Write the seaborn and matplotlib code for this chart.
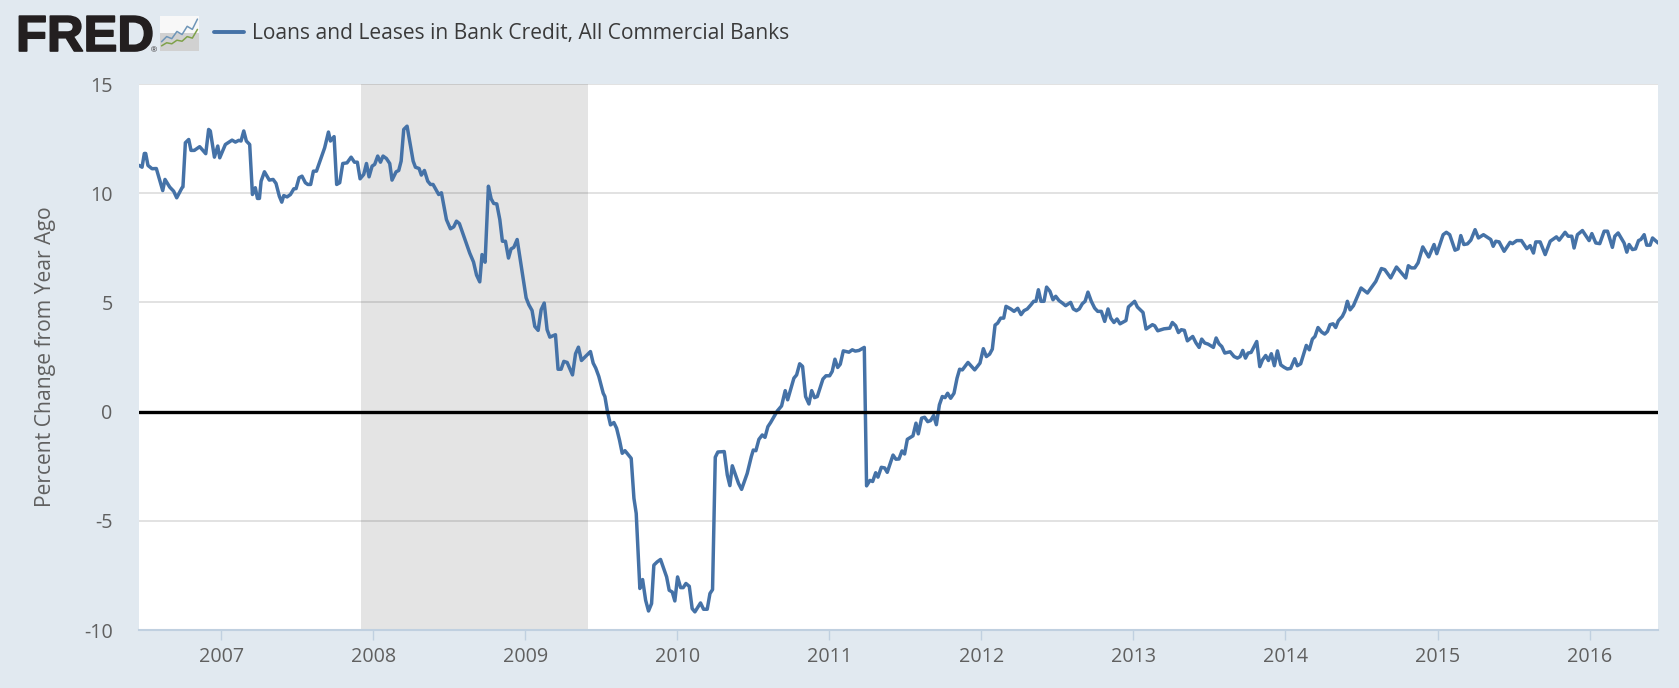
import matplotlib.patheffects as pe
import matplotlib.pyplot as plt
import numpy as np
import seaborn as sns
from matplotlib.lines import Line2D

# decimal year / percent change
years_2006 = [.462, .480, .495, .504, .519, .546, .574, .616, .631, .662, .688, .708, .743, .749, .765, .787, .802, .824, .859, .899, .918, .929, .956, .978, .991]
pct_2006 = [11.27, 11.19, 11.82, 11.82, 11.27, 11.12, 11.13, 10.12, 10.63, 10.28, 10.09, 9.79, 10.25, 10.29, 12.31, 12.46, 11.96, 11.96, 12.13, 11.81, 12.92, 12.85, 11.65, 12.16, 11.62]
years_2007 = [.028, .052, .072, .094, .116, .131, .149, .166, .188, .206, .225, .239, .252, .263, .285, .317, .342, .361, .383, .399, .412, .434, .456, .478, .493, .513, .532, .554, .570, .589, .607, .627, .681, .706, .719, .743, .760, .780, .800, .828, .855, .877, .896, .914, .938, .956, .973, .993]
pct_2007 = [12.23, 12.34, 12.43, 12.34, 12.42, 12.39, 12.85, 12.39, 12.23, 9.94, 10.25, 9.76, 9.76, 10.55, 10.98, 10.60, 10.63, 10.45, 9.86, 9.59, 9.89, 9.83, 9.94, 10.20, 10.21, 10.71, 10.78, 10.48, 10.40, 10.40, 11.01, 11.01, 12.08, 12.80, 12.39, 12.59, 10.40, 10.48, 11.36, 11.39, 11.65, 11.42, 11.42, 10.66, 10.86, 11.36, 10.75, 11.24]
years_2008 = [.010, .030, .048, .065, .087, .109, .124, .151, .168, .184, .201, .223, .263, .278, .302, .317, .337, .359, .377, .394, .431, .449, .482, .508, .530, .548, .567, .635, .660, .680, .701, .716, .736, .758, .776, .793, .813, .833, .850, .870, .890, .907, .925, .947]
pct_2008 = [11.32, 11.70, 11.42, 11.70, 11.59, 11.36, 10.60, 10.98, 11.04, 11.47, 12.92, 13.07, 11.47, 11.19, 11.13, 10.83, 11.04, 10.55, 10.40, 10.40, 9.94, 10.02, 8.79, 8.37, 8.46, 8.72, 8.61, 7.26, 6.85, 6.25, 5.94, 7.19, 6.84, 10.32, 9.74, 9.53, 9.51, 8.79, 7.80, 7.80, 7.03, 7.45, 7.52, 7.88]
years_2009 = [.006, .024, .045, .063, .085, .105, .125, .144, .162, .199, .216, .236, .254, .276, .311, .331, .350, .370, .429, .447, .464, .484, .513, .524, .541, .561, .583, .601, .620, .638, .656, .697, .715, .730, .754, .772, .792, .811, .831, .846, .868, .890, .930, .947, .967, .984]
pct_2009 = [5.21, 4.89, 4.63, 3.90, 3.72, 4.67, 4.97, 3.75, 3.41, 3.52, 1.94, 1.94, 2.30, 2.25, 1.68, 2.65, 2.95, 2.34, 2.75, 2.22, 1.99, 1.61, 0.84, 0.69, 0.00, -0.61, -0.50, -0.76, -1.30, -1.91, -1.79, -2.14, -3.97, -4.66, -8.10, -7.69, -8.64, -9.13, -8.79, -7.03, -6.88, -6.77, -7.57, -8.18, -8.26, -8.67]
years_2010 = [.002, .022, .039, .057, .079, .098, .116, .153, .173, .197, .215, .232, .250, .267, .309, .329, .346, .362, .403, .423, .460, .487, .500, .517, .537, .559, .577, .596, .614, .658, .686, .710, .726, .767, .785, .805, .824, .844, .866, .884, .903, .921, .958, .978]
pct_2010 = [-7.57, -8.06, -8.06, -7.87, -8.00, -9.02, -9.17, -8.76, -9.05, -9.05, -8.33, -8.15, -2.09, -1.85, -1.83, -2.90, -3.39, -2.48, -3.29, -3.56, -2.83, -2.06, -1.76, -1.79, -1.27, -1.07, -1.18, -0.69, -0.50, 0.03, 0.26, 0.96, 0.54, 1.53, 1.68, 2.19, 2.07, 0.69, 0.35, 0.96, 0.64, 0.69, 1.49, 1.64]
years_2011 = [.002, .019, .037, .055, .072, .092, .129, .151, .171, .195, .230, .245, .267, .285, .305, .320, .342, .364, .381, .419, .438, .458, .478, .495, .513, .550, .570, .585, .607, .627, .647, .666, .686, .704, .724, .743, .761, .778, .798, .820, .840, .857, .875, .912, .956, .991]
pct_2011 = [1.64, 1.84, 2.40, 2.02, 2.17, 2.78, 2.72, 2.83, 2.77, 2.80, 2.94, -3.40, -3.15, -3.20, -2.80, -3.00, -2.55, -2.58, -2.78, -1.99, -2.18, -2.17, -1.80, -1.94, -1.27, -1.11, -0.53, -1.02, -0.30, -0.26, -0.46, -0.41, -0.18, -0.60, 0.31, 0.69, 0.64, 0.84, 0.61, 0.84, 1.53, 1.94, 1.91, 2.25, 1.91, 2.22]
years_2012 = [.013, .033, .054, .072, .090, .107, .127, .147, .162, .193, .215, .239, .261, .280, .302, .326, .344, .359, .375, .392, .412, .429, .451, .471, .489, .511, .533, .554, .587, .605, .625, .644, .664, .682, .701, .723, .745, .765, .789, .811, .833, .851, .872, .892, .912, .951, .967]
pct_2012 = [2.88, 2.52, 2.63, 2.86, 3.96, 4.05, 4.28, 4.28, 4.82, 4.70, 4.59, 4.73, 4.44, 4.62, 4.70, 4.89, 5.05, 5.05, 5.58, 5.05, 5.05, 5.70, 5.51, 5.12, 5.28, 5.08, 4.97, 4.85, 5.00, 4.70, 4.62, 4.70, 4.94, 5.05, 5.47, 5.05, 4.74, 4.59, 4.59, 4.13, 4.70, 4.28, 4.08, 4.24, 4.02, 4.17, 4.79]
years_2013 = [.008, .026, .063, .083, .125, .140, .160, .201, .239, .256, .278, .296, .315, .335, .355, .390, .412, .432, .449, .469, .491, .526, .544, .563, .581, .601, .636, .662, .684, .702, .719, .737, .754, .774, .811, .831, .849, .870, .888, .907, .927, .947, .969, .991]
pct_2013 = [5.05, 4.79, 4.54, 3.78, 3.98, 3.93, 3.70, 3.79, 3.82, 4.08, 3.93, 3.62, 3.75, 3.72, 3.24, 3.44, 3.14, 2.94, 3.32, 3.14, 3.09, 2.94, 3.37, 3.10, 2.98, 2.68, 2.74, 2.52, 2.45, 2.52, 2.80, 2.45, 2.68, 2.71, 3.21, 2.06, 2.37, 2.57, 2.34, 2.65, 2.10, 2.78, 2.14, 2.03]
years_2014 = [.012, .034, .061, .078, .100, .137, .157, .177, .194, .214, .238, .258, .276, .293, .313, .330, .348, .374, .390, .407, .425, .447, .497, .539, .594, .631, .653, .692, .730, .791, .808, .828, .850, .872, .903, .942, .977, .995]
pct_2014 = [1.95, 1.98, 2.42, 2.10, 2.19, 3.03, 2.83, 3.32, 3.44, 3.85, 3.64, 3.55, 3.67, 3.98, 4.02, 3.85, 4.16, 4.36, 4.59, 5.05, 4.66, 4.85, 5.66, 5.43, 5.96, 6.55, 6.50, 6.12, 6.62, 6.12, 6.68, 6.58, 6.58, 6.81, 7.54, 7.08, 7.65, 7.23]
years_2015 = [.037, .058, .080, .115, .135, .153, .173, .197, .219, .247, .269, .302, .350, .366, .383, .405, .438, .477, .493, .521, .552, .587, .609, .631, .646, .675, .708, .741, .782, .800, .839, .859, .883, .898, .920, .953, .997]
pct_2015 = [8.10, 8.21, 8.10, 7.39, 7.45, 8.06, 7.65, 7.68, 7.85, 8.33, 7.95, 8.10, 7.88, 7.57, 7.80, 7.77, 7.34, 7.75, 7.69, 7.83, 7.83, 7.46, 7.60, 7.26, 7.77, 7.77, 7.19, 7.80, 8.00, 7.85, 8.21, 8.03, 8.03, 7.49, 8.10, 8.29, 7.83]
years_2016 = [.015, .041, .067, .096, .118, .150, .166, .188, .227, .245, .260, .282, .302, .322, .337, .359, .376, .398, .414, .451]
pct_2016 = [8.15, 7.72, 7.69, 8.26, 8.26, 7.52, 8.03, 8.18, 7.72, 7.30, 7.65, 7.42, 7.45, 7.83, 7.88, 8.10, 7.62, 7.62, 7.95, 7.72]

recession_start = 2007.917
recession_end = 2009.414
tick_years = [2007, 2008, 2009, 2010, 2011, 2012, 2013, 2014, 2015, 2016]
y_ticks = [-10, -5, 0, 5, 10, 15]
series_name = "Loans and Leases in Bank Credit, All Commercial Banks"

# little chart in the logo
icon_x = [0, 1, 2, 3, 4, 5, 6, 7]
icon_blue = [1.2, 2.2, 1.8, 3.2, 2.6, 4.2, 3.6, 5.6]
icon_green = [0.4, 1.0, 0.8, 1.5, 1.3, 2.2, 1.9, 3.6]

BG = "#E1E9F0"
LINE = "#4572A7"
TEXT = "#606060"

sns.set_theme(style="white")
plt.rcParams["font.family"] = ["Open Sans", "DejaVu Sans"]

year_parts = [years_2006, years_2007, years_2008, years_2009, years_2010, years_2011, years_2012, years_2013, years_2014, years_2015, years_2016]
xs = np.concatenate([2006 + i + np.array(part) for i, part in enumerate(year_parts)])
ys = np.concatenate(
    [pct_2006, pct_2007, pct_2008, pct_2009, pct_2010, pct_2011, pct_2012, pct_2013, pct_2014, pct_2015, pct_2016]
)

W, H = 1679, 688
fig = plt.figure(figsize=(W / 100, H / 100), dpi=100, facecolor=BG)
ax = fig.add_axes([139 / W, 1 - 630 / H, (1658 - 139) / W, (630 - 84) / H])
ax.set_facecolor("white")

ax.axvspan(recession_start, recession_end, color="black", alpha=0.105, lw=0, zorder=1)
ax.axhline(0, color="black", lw=2.4, zorder=4)
sns.lineplot(x=xs, y=ys, ax=ax, color=LINE, lw=2.5, estimator=None, sort=False, zorder=3)

ax.set_xlim(2006.46, 2016.45)
ax.set_ylim(-10, 15)
ax.set_xticks(tick_years)
ax.set_xticklabels([str(y) for y in tick_years])
ax.set_yticks(y_ticks)
ax.set_yticklabels([str(y) for y in y_ticks])
ax.grid(axis="y", color="#E2E2E2", lw=1.4, zorder=0)
ax.grid(axis="x", visible=False)
ax.set_axisbelow(True)
ax.tick_params(axis="x", length=7.5, width=1.0, color="#C0D0E0", labelsize=14.2, labelcolor=TEXT, pad=5, bottom=True)
ax.tick_params(axis="y", length=0, labelsize=14.2, labelcolor=TEXT, pad=19)
sns.despine(ax=ax, left=True, right=True, top=True)
ax.spines["bottom"].set_color("#C0D0E0")
ax.spines["bottom"].set_linewidth(1.5)
ax.set_ylabel("Percent Change from Year Ago", fontsize=15.2, color=TEXT)
ax.yaxis.set_label_coords((56 - 139) / (1658 - 139), 0.5)

# header: logo and legend
fig.text(
    16 / W, 1 - 51 / H, "FRED", family="Liberation Sans", weight="bold", fontsize=36.5, color="#231F20", va="baseline",
    path_effects=[pe.withStroke(linewidth=1.2, foreground="#231F20")],
)
fig.text(151 / W, 1 - 52 / H, "®", family="Liberation Sans", fontsize=6, color="#231F20", va="baseline")

icon = fig.add_axes([160 / W, 1 - 51 / H, 39 / W, 35 / H])
icon.imshow([[0.97], [0.82]], cmap="gray", vmin=0, vmax=1, aspect="auto", extent=(-0.3, 7.3, -0.6, 6.2))
sns.lineplot(x=icon_x, y=icon_blue, ax=icon, color="#6F96B8", lw=1.1, estimator=None)
sns.lineplot(x=icon_x, y=icon_green, ax=icon, color="#7FA14A", lw=1.1, estimator=None)
icon.set_xlim(-0.3, 7.3)
icon.set_ylim(-0.6, 6.2)
icon.axis("off")

fig.legend(
    handles=[Line2D([0], [0], color=LINE, lw=2.8)],
    labels=[series_name],
    loc="center left",
    bbox_to_anchor=(214 / W, 1 - 34 / H),
    frameon=False,
    borderpad=0,
    borderaxespad=0,
    handlelength=1.43,
    handletextpad=0.38,
    labelcolor="#3A3A3A",
    prop={"family": "Open Sans", "size": 15.1},
)

fig.savefig("out.png", dpi=100, facecolor=BG)
